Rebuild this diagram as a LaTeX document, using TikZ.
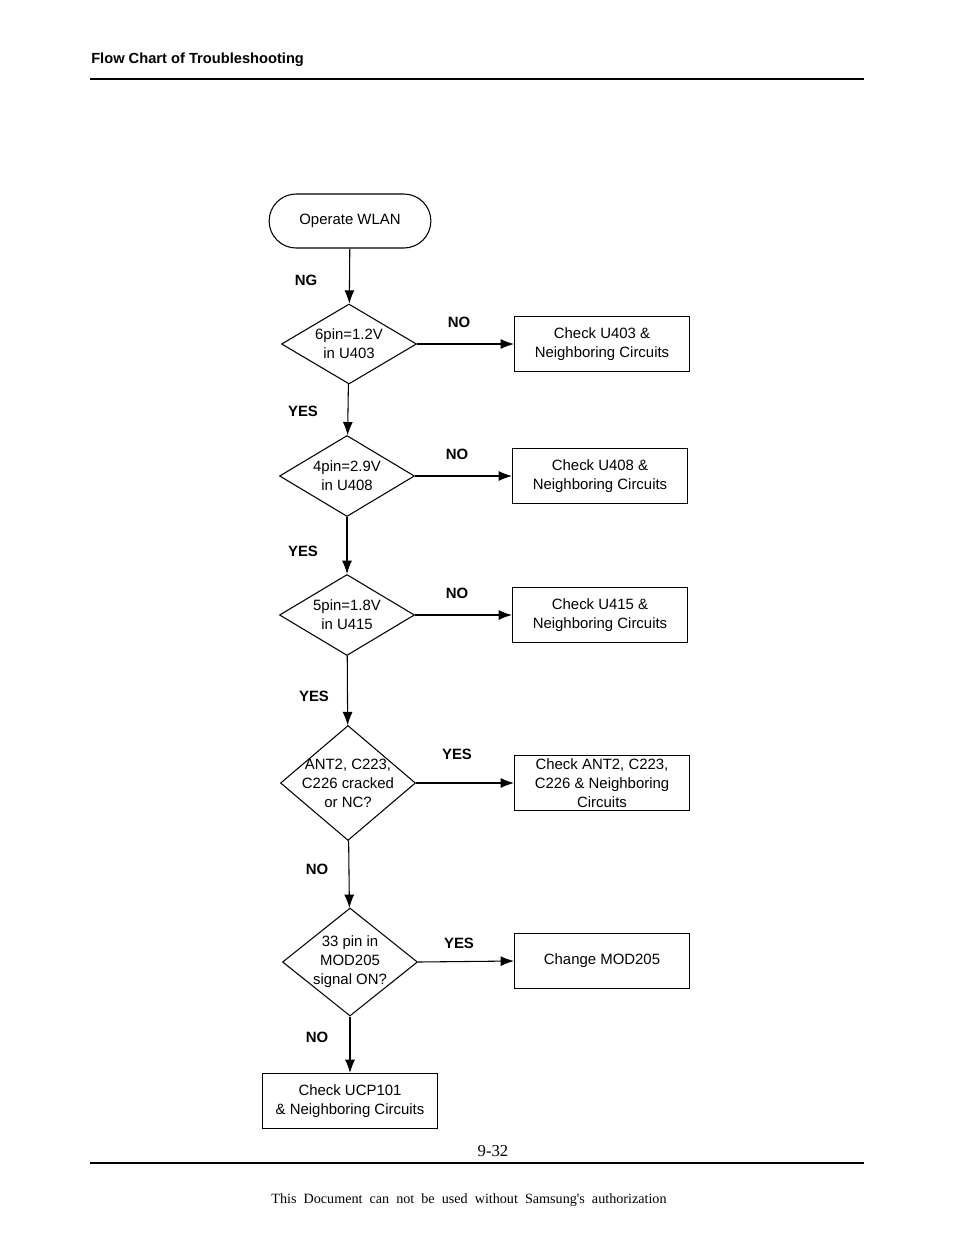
\documentclass[tikz,border=0pt]{standalone}
\usepackage{fontspec}
\setmainfont{Liberation Sans}
\newfontfamily\footfont{Liberation Serif}
\usepackage{tikz}
\usetikzlibrary{shapes.geometric,shapes.misc,arrows.meta}

\begin{document}
\begin{tikzpicture}[x=0.75pt, y=-0.75pt,
		every node/.style={font=\fontsize{11.2pt}{14.2pt}\selectfont},
		terminal/.style={rounded rectangle, draw, line width=0.8pt, minimum width=128pt, minimum height=40.5pt},
		decision/.style={diamond, draw, line width=0.8pt, inner sep=0pt, minimum width=101.25pt},
		outcome/.style={rectangle, draw, line width=0.8pt, align=center, minimum width=131.25pt, minimum height=41.25pt, inner sep=1pt},
		answer/.style={font=\fontsize{11.2pt}{14pt}\selectfont\bfseries},
		flow/.style={line width=0.8pt, -{Latex[length=10pt, width=7.5pt]}}]

		\useasboundingbox (0,0) rectangle (954,1235);

		% page header and footer
		\node (title) [anchor=base west, inner sep=0pt, font=\fontsize{11pt}{13pt}\selectfont\bfseries] at (91,63) {Flow Chart of Troubleshooting};
		\coordinate (topL) at (90,79);
		\coordinate (topR) at (864,79);
		\draw [line width=0.8pt] (topL) -- (topR);

		\node (page) [anchor=base, inner sep=0pt, font=\footfont\fontsize{12.5pt}{14pt}\selectfont] at (493,1156) {9-32};
		\coordinate (botL) at (90,1163);
		\coordinate (botR) at (864,1163);
		\draw [line width=0.8pt] (botL) -- (botR);

		\node (notice) [anchor=base, inner sep=0pt, font=\footfont\fontsize{10.6pt}{12pt}\selectfont] at (469,1203) {This \ Document \ can \ not \ be \ used \ without \ Samsung's \ authorization};

		% flow chart
		\node (start) [terminal] at (350,221) {Operate WLAN};

		\node (pinA) [decision, minimum height=60pt, label={[align=center]center:6pin=1.2V\\in U403}] at (349,344) {};
		\node (pinB) [decision, minimum height=60.75pt, label={[align=center]center:4pin=2.9V\\in U408}] at (347,476) {};
		\node (pinC) [decision, minimum height=60.75pt, label={[align=center]center:5pin=1.8V\\in U415}] at (347,615) {};
		\node (ant) [decision, minimum height=86.25pt, label={[align=center]center:ANT2, C223,\\C226 cracked\\or NC?}] at (348,783) {};
		\node (mod) [decision, minimum height=81pt, label={[align=center]center:33 pin in\\MOD205\\signal ON?}] at (350,962) {};

		\node (chkA) [outcome] at (602,344) {Check U403 \&\\Neighboring Circuits};
		\node (chkB) [outcome] at (600,476) {Check U408 \&\\Neighboring Circuits};
		\node (chkC) [outcome] at (600,615) {Check U415 \&\\Neighboring Circuits};
		\node (chkAnt) [outcome] at (602,783) {Check ANT2, C223,\\C226 \& Neighboring\\Circuits};
		\node (chgMod) [outcome] at (602,961) {Change MOD205};
		\node (chkUcp) [outcome] at (350,1101) {Check UCP101\\\& Neighboring Circuits};

		\draw [flow] (start) -- (pinA);
		\draw [flow] (pinA) -- (pinB);
		\draw [flow] (pinB) -- (pinC);
		\draw [flow] (pinC) -- (ant);
		\draw [flow] (ant) -- (mod);
		\draw [flow] (mod) -- (chkUcp);

		\draw [flow] (pinA.east) -- (chkA.west);
		\draw [flow] (pinB.east) -- (chkB.west);
		\draw [flow] (pinC.east) -- (chkC.west);
		\draw [flow] (ant.east) -- (chkAnt.west);
		\draw [flow] (mod.east) -- (chgMod.west);

		% branch labels
		\node (ng) [answer] at (306,280) {NG};
		\node (yesA) [answer] at (303,411) {YES};
		\node (yesB) [answer] at (303,551) {YES};
		\node (yesC) [answer] at (314,696) {YES};
		\node (noAnt) [answer] at (317,869) {NO};
		\node (noMod) [answer] at (317,1037) {NO};

		\node (noA) [answer] at (459,322) {NO};
		\node (noB) [answer] at (457,454) {NO};
		\node (noC) [answer] at (457,593) {NO};
		\node (yesAnt) [answer] at (457,754) {YES};
		\node (yesMod) [answer] at (459,943) {YES};
\end{tikzpicture}
\end{document}
